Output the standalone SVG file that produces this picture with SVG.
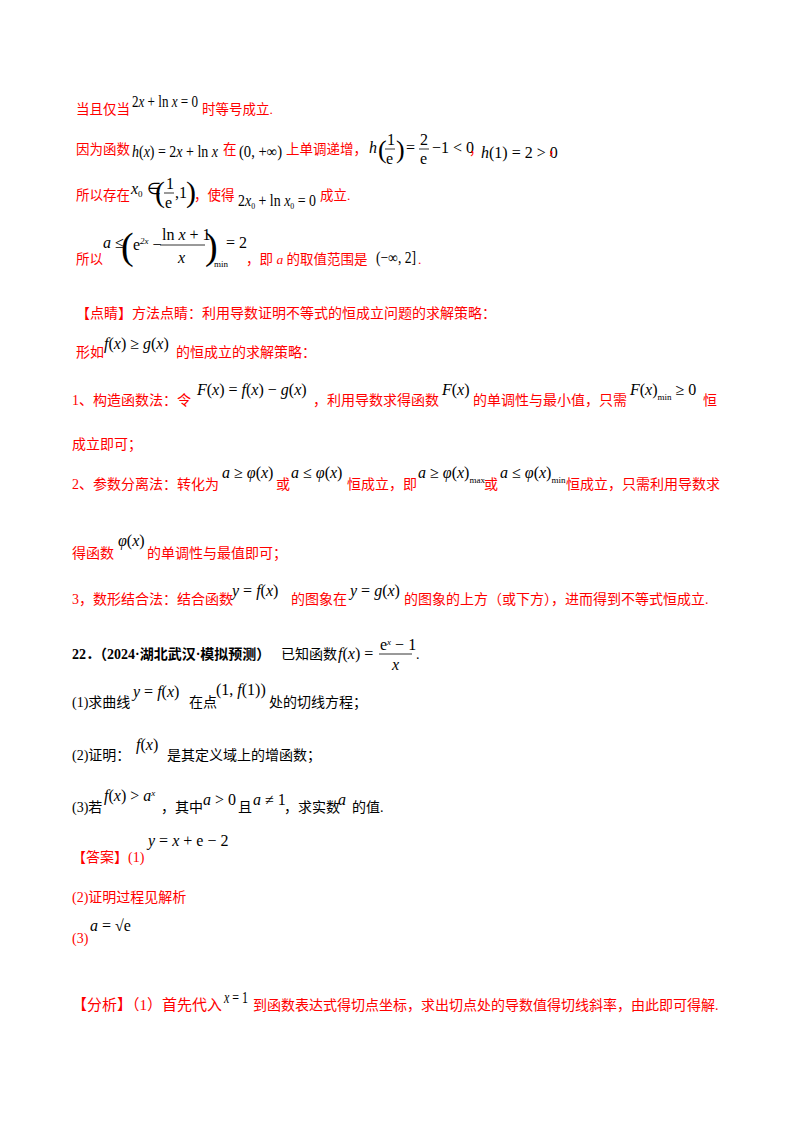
<svg xmlns="http://www.w3.org/2000/svg" width="800" height="1132" viewBox="0 0 800 1132">
<style>
.r{fill:#ff0000;font-family:"Liberation Serif","Noto Sans CJK SC",serif;font-size:14px}
.L{font-size:13.5px}
.k{fill:#000;font-family:"Liberation Serif","Noto Sans CJK SC",serif;font-size:14px}
.m{fill:#000;font-family:"Liberation Serif",serif;font-size:16px}
.s{font-size:10px}
.t{font-size:9px}
.b{font-weight:bold}
.i{font-style:italic}
line{stroke:#000;stroke-width:0.8}
</style>
<rect width="800" height="1132" fill="#fff"/>
<text class="r L" x="76" y="114">当且仅当</text>
<text class="m" x="132" y="107" textLength="66" lengthAdjust="spacingAndGlyphs">2<tspan class="i">x</tspan> + ln <tspan class="i">x</tspan> = 0</text>
<text class="r L" x="202" y="114">时等号成立.</text>

<text class="r L" x="76" y="154">因为函数</text>
<text class="m" x="132" y="157" textLength="86" lengthAdjust="spacingAndGlyphs"><tspan class="i">h</tspan>(<tspan class="i">x</tspan>) = 2<tspan class="i">x</tspan> + ln <tspan class="i">x</tspan></text>
<text class="r L" x="223" y="154">在</text>
<text class="m" x="239" y="157" textLength="43" lengthAdjust="spacingAndGlyphs">(0, +∞)</text>
<text class="r L" x="286" y="154">上单调递增，</text>
<text class="m" x="369" y="153" font-style="italic">h</text>
<text class="m" x="378" y="158" style="font-size:26px">(</text>
<text class="m" x="387" y="145">1</text><line x1="385" y1="149" x2="395" y2="149"/><text class="m" x="386" y="164">e</text>
<text class="m" x="396" y="158" style="font-size:26px">)</text>
<text class="m" x="406" y="153">=</text>
<text class="m" x="420" y="145">2</text><line x1="419" y1="149" x2="429" y2="149"/><text class="m" x="420" y="164">e</text>
<text class="m" x="432" y="153">−1 &lt; 0</text>
<text class="r L" x="469" y="154">，</text>
<text class="m" x="481" y="158"><tspan class="i">h</tspan>(1) = 2 &gt; 0</text>
<text class="r L" x="548" y="154">，</text>

<text class="r L" x="76" y="200">所以存在</text>
<text class="m" x="131" y="194"><tspan class="i">x</tspan><tspan class="t" dy="3">0</tspan><tspan dy="-3"> ∈</tspan></text>
<text class="m" x="155" y="202" style="font-size:30px">(</text>
<text class="m" x="166" y="189">1</text><line x1="164" y1="193" x2="174" y2="193"/><text class="m" x="165" y="208">e</text>
<text class="m" x="175" y="198">,1</text>
<text class="m" x="186" y="202" style="font-size:30px">)</text>
<text class="r L" x="194" y="200">，使得</text>
<text class="m" x="238" y="206" textLength="78" lengthAdjust="spacingAndGlyphs">2<tspan class="i">x</tspan><tspan class="t" dy="3">0</tspan><tspan dy="-3"> + ln </tspan><tspan class="i">x</tspan><tspan class="t" dy="3">0</tspan><tspan dy="-3"> = 0</tspan></text>
<text class="r L" x="320" y="200">成立.</text>

<text class="r L" x="76" y="264">所以</text>
<text class="m" x="103" y="248"><tspan class="i">a</tspan> ≤</text>
<text class="m" x="121" y="259" style="font-size:38px">(</text>
<text class="m" x="133" y="250">e<tspan class="t i" dy="-6">2x</tspan><tspan dy="6"> −</tspan></text>
<text class="m" x="162" y="240">ln <tspan class="i">x</tspan> + 1</text>
<line x1="160" y1="245" x2="205" y2="245"/>
<text class="m" x="178" y="263" font-style="italic">x</text>
<text class="m" x="205" y="259" style="font-size:38px">)</text>
<text class="m t" x="214" y="267">min</text>
<text class="m" x="226" y="248">= 2</text>
<text class="r L" x="246" y="264">，即 <tspan class="i">a</tspan> 的取值范围是</text>
<text class="m" x="376" y="263" textLength="40" lengthAdjust="spacingAndGlyphs">(−∞, 2]</text>
<text class="r L" x="418" y="264">.</text>

<text class="r" x="76" y="318">【点睛】方法点睛：利用导数证明不等式的恒成立问题的求解策略：</text>
<text class="r" x="76" y="357">形如</text>
<text class="m" x="104" y="349"><tspan class="i">f</tspan>(<tspan class="i">x</tspan>) ≥ <tspan class="i">g</tspan>(<tspan class="i">x</tspan>)</text>
<text class="r" x="176" y="357">的恒成立的求解策略：</text>

<text class="r" x="72" y="405">1、构造函数法：令</text>
<text class="m" x="197" y="395"><tspan class="i">F</tspan>(<tspan class="i">x</tspan>) = <tspan class="i">f</tspan>(<tspan class="i">x</tspan>) − <tspan class="i">g</tspan>(<tspan class="i">x</tspan>)</text>
<text class="r" x="313" y="405">，利用导数求得函数</text>
<text class="m" x="442" y="395"><tspan class="i">F</tspan>(<tspan class="i">x</tspan>)</text>
<text class="r" x="473" y="405">的单调性与最小值，只需</text>
<text class="m" x="630" y="395"><tspan class="i">F</tspan>(<tspan class="i">x</tspan>)<tspan class="t" dy="5">min</tspan><tspan dy="-5"> ≥ 0</tspan></text>
<text class="r" x="703" y="405">恒</text>
<text class="r" x="72" y="449">成立即可；</text>

<text class="r" x="72" y="489">2、参数分离法：转化为</text>
<text class="m" x="222" y="478"><tspan class="i">a</tspan> ≥ <tspan class="i">φ</tspan>(<tspan class="i">x</tspan>)</text>
<text class="r" x="276" y="489">或</text>
<text class="m" x="291" y="478"><tspan class="i">a</tspan> ≤ <tspan class="i">φ</tspan>(<tspan class="i">x</tspan>)</text>
<text class="r" x="347" y="489">恒成立，即</text>
<text class="m" x="418" y="478"><tspan class="i">a</tspan> ≥ <tspan class="i">φ</tspan>(<tspan class="i">x</tspan>)<tspan class="t" dy="5">max</tspan></text>
<text class="r" x="484" y="489">或</text>
<text class="m" x="500" y="478"><tspan class="i">a</tspan> ≤ <tspan class="i">φ</tspan>(<tspan class="i">x</tspan>)<tspan class="t" dy="5">min</tspan></text>
<text class="r" x="566" y="489">恒成立，只需利用导数求</text>

<text class="r" x="72" y="558">得函数</text>
<text class="m" x="118" y="546"><tspan class="i">φ</tspan>(<tspan class="i">x</tspan>)</text>
<text class="r" x="147" y="558">的单调性与最值即可；</text>

<text class="r" x="72" y="604">3，数形结合法：结合函数</text>
<text class="m" x="232" y="596"><tspan class="i">y</tspan> = <tspan class="i">f</tspan>(<tspan class="i">x</tspan>)</text>
<text class="r" x="291" y="604">的图象在</text>
<text class="m" x="350" y="596"><tspan class="i">y</tspan> = <tspan class="i">g</tspan>(<tspan class="i">x</tspan>)</text>
<text class="r" x="404" y="604">的图象的上方（或下方），进而得到不等式恒成立.</text>

<text class="k b" x="72" y="659">22．（2024·湖北武汉·模拟预测）</text>
<text class="k" x="281" y="659">已知函数</text>
<text class="m" x="338" y="659"><tspan class="i">f</tspan>(<tspan class="i">x</tspan>) =</text>
<text class="m" x="380" y="650">e<tspan class="t i" dy="-5">x</tspan><tspan dy="5"> − 1</tspan></text>
<line x1="379" y1="654" x2="412" y2="654"/>
<text class="m" x="392" y="670" font-style="italic">x</text>
<text class="k" x="416" y="659">.</text>

<text class="k" x="72" y="707">(1)求曲线</text>
<text class="m" x="133" y="697"><tspan class="i">y</tspan> = <tspan class="i">f</tspan>(<tspan class="i">x</tspan>)</text>
<text class="k" x="189" y="707">在点</text>
<text class="m" x="216" y="695">(1, <tspan class="i">f</tspan>(1))</text>
<text class="k" x="269" y="707">处的切线方程；</text>

<text class="k" x="72" y="760">(2)证明：</text>
<text class="m" x="136" y="750"><tspan class="i">f</tspan>(<tspan class="i">x</tspan>)</text>
<text class="k" x="167" y="760">是其定义域上的增函数；</text>

<text class="k" x="72" y="812">(3)若</text>
<text class="m" x="104" y="801"><tspan class="i">f</tspan>(<tspan class="i">x</tspan>) &gt; <tspan class="i">a</tspan><tspan class="t i" dy="-5">x</tspan></text>
<text class="k" x="161" y="812">，其中</text>
<text class="m" x="203" y="805"><tspan class="i">a</tspan> &gt; 0</text>
<text class="k" x="238" y="812">且</text>
<text class="m" x="253" y="805"><tspan class="i">a</tspan> ≠ 1</text>
<text class="k" x="284" y="812">，求实数</text>
<text class="m" x="338" y="805" font-style="italic">a</text>
<text class="k" x="352" y="812">的值.</text>

<text class="r" x="72" y="862">【答案】(1)</text>
<text class="m" x="148" y="846"><tspan class="i">y</tspan> = <tspan class="i">x</tspan> + e − 2</text>
<text class="r" x="72" y="902">(2)证明过程见解析</text>
<text class="r" x="72" y="943">(3)</text>
<text class="m" x="90" y="931"><tspan class="i">a</tspan> = √e</text>

<text class="r" x="72" y="1010" style="font-size:15px">【分析】（1）首先代入</text>
<text class="m" x="224" y="1003" textLength="24" lengthAdjust="spacingAndGlyphs"><tspan class="i">x</tspan> = 1</text>
<text class="r" x="253" y="1010">到函数表达式得切点坐标，求出切点处的导数值得切线斜率，由此即可得解.</text>
</svg>
